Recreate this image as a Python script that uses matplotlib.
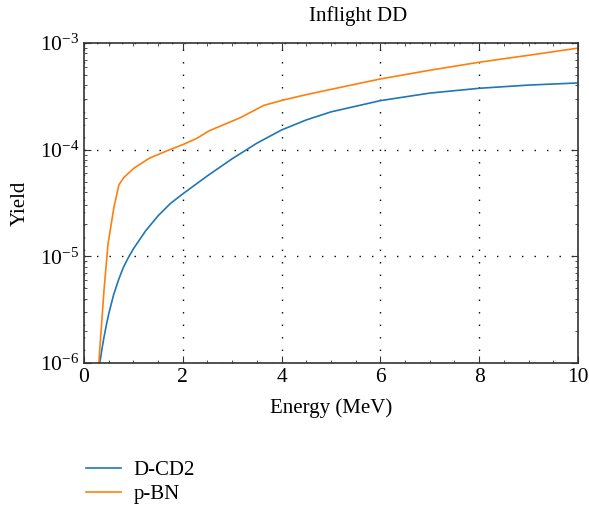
import matplotlib.pyplot as plt
import numpy as np
from matplotlib.ticker import LogLocator, MultipleLocator, NullFormatter

plt.rcParams['font.family'] = ['Liberation Serif', 'DejaVu Serif']
plt.rcParams['mathtext.fontset'] = 'stix'

# D-CD2
e_cd2 = [0.32, 0.36, 0.40, 0.45, 0.50, 0.60, 0.70, 0.80, 0.90, 1.00, 1.25, 1.50,
         1.75, 2.00, 2.50, 3.00, 3.50, 4.00, 4.50, 5.00, 6.00, 7.00, 8.00, 9.00, 10.0]
y_cd2 = [1e-6, 1.32e-6, 1.70e-6, 2.24e-6, 2.88e-6, 4.37e-6, 6.03e-6, 7.94e-6, 9.77e-6,
         1.175e-5, 1.74e-5, 2.40e-5, 3.13e-5, 3.85e-5, 5.69e-5, 8.22e-5, 1.15e-4,
         1.53e-4, 1.9e-4, 2.26e-4, 2.88e-4, 3.39e-4, 3.76e-4, 4.03e-4, 4.22e-4]

# p-BN
e_bn = [0.30, 0.405, 0.486, 0.607, 0.708, 0.81, 1.01, 1.32, 1.69, 2.01, 2.29, 2.53,
        2.90, 3.17, 3.64, 4.05, 4.45, 4.98, 6.0, 7.0, 8.0, 9.03, 10.0]
y_bn = [1e-6, 4.8e-6, 1.3e-5, 2.9e-5, 4.7e-5, 5.5e-5, 6.7e-5, 8.3e-5, 9.8e-5, 1.12e-4,
        1.28e-4, 1.5e-4, 1.77e-4, 2.0e-4, 2.6e-4, 2.93e-4, 3.24e-4, 3.66e-4, 4.6e-4,
        5.55e-4, 6.6e-4, 7.7e-4, 8.95e-4]

fig = plt.figure(figsize=(5.89, 5.08), dpi=100)
ax = fig.add_axes([0.1426, 0.2854, 0.8387, 0.63])

l1, = ax.plot(e_cd2, y_cd2, color='#1f77b4', lw=1.2, label='D-CD2')
l2, = ax.plot(e_bn, y_bn, color='#ff7f0e', lw=1.2, label='p-BN')

ax.set_yscale('log')
ax.set_xlim(0, 10)
ax.set_ylim(1e-6, 1e-3)
ax.xaxis.set_major_locator(MultipleLocator(2))
ax.xaxis.set_minor_locator(MultipleLocator(0.5))
ax.yaxis.set_major_locator(LogLocator(base=10, numticks=10))
ax.yaxis.set_minor_locator(LogLocator(base=10, subs=np.arange(2, 10), numticks=10))
ax.yaxis.set_minor_formatter(NullFormatter())
ax.tick_params(which='both', direction='in', top=True, right=True, labelsize=15.5, color='#333333')
ax.tick_params(which='major', length=5)
ax.tick_params(which='minor', length=2.5)
for s in ax.spines.values():
    s.set_linewidth(1.2)
    s.set_color('#333333')

ax.grid(True, which='major', color='black', linestyle=(0, (1, 8)), linewidth=1)

fig.text(0.608, 0.968, 'Inflight DD', fontsize=15, ha='center', va='center')
ax.set_xlabel('Energy (MeV)', fontsize=15, labelpad=8)
ax.set_ylabel('Yield', fontsize=15, labelpad=7)

fig.legend(handles=[l1, l2], loc='upper left', bbox_to_anchor=(0.114, 0.13),
           frameon=False, fontsize=15, handlelength=1.7, handletextpad=0.6,
           labelspacing=0.2)

fig.savefig('out.png', dpi=100)
